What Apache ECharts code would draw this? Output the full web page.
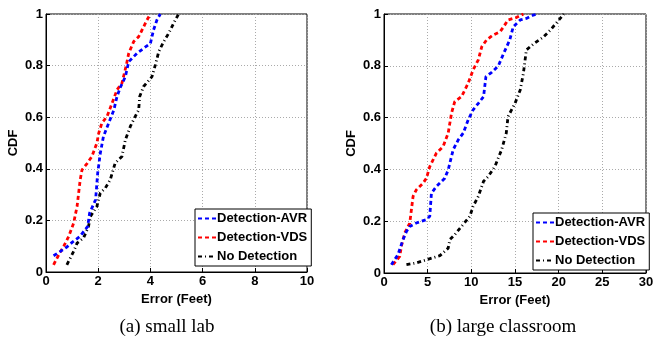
<!DOCTYPE html>
<html>
<head>
<meta charset="utf-8">
<script src="https://cdn.jsdelivr.net/npm/echarts@6/dist/echarts.min.js"></script>
<style>
  html, body { margin: 0; padding: 0; background: #fff; }
  #chart { width: 662px; height: 347px; }
</style>
</head>
<body>
<div id="chart"></div>
<script>
// series names
const names = ["Detection-AVR", "Detection-VDS", "No Detection"];

// (a) small lab: [error (feet), cdf]
const labAvr = [[0.29,0.063],[0.55,0.08],[0.8,0.097],[1.0,0.115],[1.3,0.138],[1.6,0.177],[1.67,0.228],[1.9,0.28],[1.98,0.383],[2.08,0.46],[2.2,0.525],[2.4,0.577],[2.6,0.628],[2.72,0.68],[2.85,0.716],[3.04,0.757],[3.17,0.815],[3.49,0.848],[3.74,0.867],[4.0,0.886],[4.12,0.938],[4.25,0.977],[4.38,1.0]];
const labVds = [[0.29,0.028],[0.49,0.067],[0.68,0.1],[0.87,0.138],[1.06,0.19],[1.19,0.254],[1.31,0.357],[1.38,0.396],[1.57,0.42],[1.76,0.448],[1.95,0.5],[2.02,0.538],[2.14,0.577],[2.34,0.603],[2.53,0.654],[2.72,0.706],[2.91,0.732],[3.08,0.803],[3.17,0.848],[3.36,0.893],[3.55,0.912],[3.68,0.938],[3.87,0.977],[4.0,1.0]];
const labNone = [[0.8,0.028],[1.06,0.08],[1.19,0.112],[1.44,0.132],[1.63,0.177],[1.7,0.215],[1.95,0.254],[2.08,0.306],[2.27,0.325],[2.46,0.357],[2.65,0.422],[2.91,0.448],[3.04,0.512],[3.23,0.564],[3.42,0.603],[3.55,0.628],[3.59,0.68],[3.74,0.719],[4.06,0.757],[4.19,0.803],[4.32,0.854],[4.51,0.893],[4.7,0.925],[4.89,0.964],[5.08,1.0]];

// (b) large classroom
const roomAvr = [[0.84,0.032],[1.6,0.071],[2.18,0.129],[2.57,0.16],[2.95,0.18],[3.7,0.193],[4.86,0.206],[5.24,0.219],[5.43,0.308],[6.0,0.334],[6.96,0.366],[7.35,0.398],[7.92,0.476],[8.5,0.514],[9.07,0.54],[9.64,0.591],[10.2,0.63],[10.8,0.655],[11.4,0.681],[11.67,0.758],[12.3,0.774],[13.1,0.8],[13.7,0.848],[14.4,0.9],[14.8,0.951],[15.6,0.977],[16.3,0.983],[17.1,0.996],[17.6,1.0]];
const roomVds = [[1.03,0.032],[1.8,0.064],[1.99,0.103],[2.37,0.154],[2.95,0.193],[3.33,0.296],[3.7,0.321],[4.48,0.347],[4.86,0.366],[5.24,0.411],[6.0,0.463],[6.77,0.488],[7.35,0.54],[7.73,0.617],[8.1,0.662],[8.88,0.681],[9.64,0.733],[10.2,0.784],[10.8,0.823],[11.2,0.874],[11.75,0.9],[12.5,0.919],[13.3,0.932],[13.7,0.951],[14.2,0.977],[15.2,0.987],[15.96,1.0]];
const roomNone = [[2.57,0.032],[3.7,0.039],[4.86,0.051],[6.4,0.067],[7.35,0.096],[7.54,0.129],[8.1,0.148],[8.88,0.18],[9.83,0.219],[10.2,0.257],[10.8,0.296],[11.4,0.354],[11.94,0.373],[12.7,0.411],[13.47,0.476],[14.0,0.54],[14.2,0.604],[15.0,0.655],[15.6,0.707],[15.96,0.771],[16.3,0.861],[17.1,0.884],[18.2,0.91],[19.0,0.936],[19.8,0.968],[20.6,1.0]];

const captions = ["(a) small lab", "(b) large classroom"];

const font = "'Liberation Sans Narrow', 'Liberation Sans', Arial, sans-serif";
const serif = "'Liberation Serif', 'DejaVu Serif', serif";
const colors = ["#0000ff", "#ff0000", "#000000"];
const dashes = [[4, 3], [4, 3], [4, 3, 1, 3]];

const chart = echarts.init(document.getElementById("chart"));

const labelStyle = { fontFamily: font, fontWeight: "bold", fontSize: 13, color: "#000" };

const xAxis = (idx, max, interval) => ({
  gridIndex: idx,
  type: "value",
  min: 0,
  max,
  interval,
  name: "Error (Feet)",
  nameLocation: "middle",
  nameGap: 18,
  nameTextStyle: labelStyle,
  axisLine: { onZero: false, lineStyle: { color: "#000", width: 1 } },
  axisTick: { inside: true, length: 4, lineStyle: { color: "#000" } },
  axisLabel: { ...labelStyle, margin: 3 },
  splitLine: { show: true, lineStyle: { color: "#aaa", type: [1, 2] } },
});

const yAxis = (idx) => ({
  gridIndex: idx,
  type: "value",
  min: 0,
  max: 1,
  interval: 0.2,
  name: "CDF",
  nameLocation: "middle",
  nameGap: 26,
  nameTextStyle: labelStyle,
  axisLine: { lineStyle: { color: "#000", width: 1 } },
  axisTick: { inside: true, length: 4, lineStyle: { color: "#000" } },
  axisLabel: { ...labelStyle, margin: 3 },
  splitLine: { show: true, lineStyle: { color: "#aaa", type: [1, 2] } },
});

const line = (i, axis, data) => ({
  name: names[i],
  type: "line",
  xAxisIndex: axis,
  yAxisIndex: axis,
  data,
  showSymbol: false,
  symbol: "none",
  color: colors[i],
  lineStyle: { color: colors[i], width: 2.8, type: dashes[i] },
  z: 3 - i,
  animation: false,
});

const legend = (left, top) => ({
  data: names,
  orient: "vertical",
  left,
  top,
  itemWidth: 18,
  itemHeight: 8,
  itemGap: 6,
  padding: [3, 4, 3, 2],
  backgroundColor: "#fff",
  borderColor: "#000",
  borderWidth: 1,
  itemStyle: { opacity: 0 },
  textStyle: { ...labelStyle, padding: [0, 0, 0, -4] },
  selectedMode: false,
});

const captionStyle = { fontFamily: serif, fontWeight: "normal", fontSize: 19, color: "#000" };

chart.setOption({
  animation: false,
  grid: [
    { left: 46, top: 14, width: 261, height: 258, show: true, borderColor: "#000", borderWidth: 1 },
    { left: 384, top: 14, width: 262, height: 259, show: true, borderColor: "#000", borderWidth: 1 },
  ],
  xAxis: [xAxis(0, 10, 2), xAxis(1, 30, 5)],
  yAxis: [yAxis(0), yAxis(1)],
  legend: [legend(195, 209), legend(533, 213)],
  title: [
    { text: captions[0], left: 162, textAlign: "center", top: 313, textStyle: captionStyle },
    { text: captions[1], left: 498, textAlign: "center", top: 313, textStyle: captionStyle },
  ],
  series: [
    line(0, 0, labAvr), line(1, 0, labVds), line(2, 0, labNone),
    line(0, 1, roomAvr), line(1, 1, roomVds), line(2, 1, roomNone),
  ],
});
</script>
</body>
</html>
